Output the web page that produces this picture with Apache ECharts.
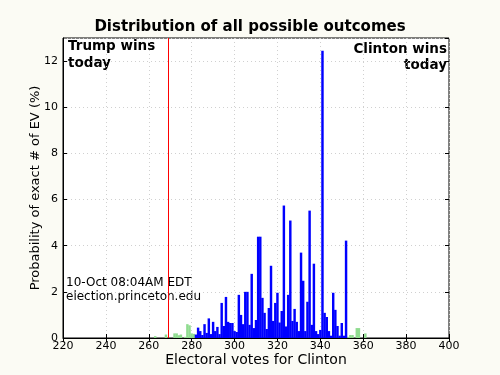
<!DOCTYPE html>
<html>
<head>
<meta charset="utf-8">
<script src="https://cdn.jsdelivr.net/npm/echarts@6/dist/echarts.min.js"></script>
<style>
  html, body { margin: 0; padding: 0; background: #fbfbf4; }
  #chart { width: 500px; height: 375px; }
</style>
</head>
<body>
<div id="chart"></div>
<script>
// electoral votes for Clinton, probability of each exact outcome (%)
const blueStart = 282;
const blueProb = [
  0.15, 0.45, 0.3, 0.13, 0.6, 0.22, 0.85, 0.17, 0.7, 0.3,
  0.48, 0.17, 1.52, 0.52, 1.78, 0.7, 0.65, 0.65, 0.3, 0.26,
  1.87, 1.0, 0.6, 2.0, 2.0, 0.57, 2.78, 0.43, 0.78, 4.39,
  4.39, 1.74, 1.09, 0.39, 1.3, 3.13, 0.74, 1.52, 1.96, 0.67,
  1.17, 5.74, 0.5, 1.87, 5.09, 0.74, 1.26, 0.7, 0.3, 3.7,
  2.48, 0.3, 1.57, 5.52, 0.57, 3.22, 0.3, 0.17, 0.35, 12.45,
  1.09, 0.91, 0.3, 0.1, 1.96, 1.22, 0.52, 0.1, 0.65, 0.1,
  4.22
];

// low-probability tails
const greenEV = [263, 268, 272, 273, 274, 275, 277, 278, 279, 280, 281, 353, 354, 355, 357, 358, 361];
const greenProb = [0.08, 0.15, 0.2, 0.2, 0.12, 0.15, 0.05, 0.6, 0.55, 0.2, 0.18, 0.05, 0.13, 0.13, 0.43, 0.43, 0.2];

const xTicks = [220, 400, 20];
const yTicks = [0, 13, 2];
const tieLine = 269;
const stamp = '10-Oct 08:04AM EDT\nelection.princeton.edu';

let blueData = [];
function build_blue() {
  for (let i = 0; i < blueProb.length; i++) {
    blueData.push([blueStart + i, blueProb[i]]);
  }
}

build_blue();
let greenData = greenEV.map(function (v, i) { return [v, greenProb[i]]; });

let font = 'DejaVu Sans';
let plotW = 500 - 63 - 51;
let barW = plotW / (xTicks[1] - xTicks[0]) + 0.3;

// mirror axes: ticks only, like the matplotlib box
function mirror(pos) {
  return {
    type: 'value',
    position: pos,
    min: pos === 'top' ? xTicks[0] : yTicks[0],
    max: pos === 'top' ? xTicks[1] : yTicks[1],
    interval: pos === 'top' ? xTicks[2] : yTicks[2],
    axisLine: {show: false},
    axisTick: {show: true, inside: true, length: 4, lineStyle: {color: '#000'}},
    axisLabel: {show: false},
    splitLine: {show: false}
  };
}

let chart = echarts.init(document.getElementById('chart'));
chart.setOption({
  backgroundColor: '#fbfbf4',
  animation: false,
  title: {
    text: 'Distribution of all possible outcomes',
    left: 'center',
    top: 15,
    textStyle: {fontFamily: font, fontSize: 15, fontWeight: 'bold', color: '#000'}
  },
  grid: {
    left: 63, right: 51, top: 38, bottom: 37,
    outerBoundsMode: 'none',
    containLabel: false,
    show: true, backgroundColor: '#fff', borderColor: '#000', borderWidth: 1
  },
  xAxis: [{
    type: 'value',
    min: xTicks[0], max: xTicks[1], interval: xTicks[2],
    name: 'Electoral votes for Clinton',
    nameLocation: 'middle',
    nameGap: 15,
    nameMoveOverlap: false,
    nameTextStyle: {fontFamily: font, fontSize: 14, color: '#000'},
    axisLine: {show: true, lineStyle: {color: '#000'}},
    axisTick: {inside: true, length: 4, lineStyle: {color: '#000'}},
    axisLabel: {fontFamily: font, fontSize: 11, color: '#000', margin: 3},
    splitLine: {show: true, lineStyle: {color: '#d0d0d0', type: [1, 3]}}
  }, mirror('top')],
  yAxis: [{
    type: 'value',
    min: yTicks[0], max: yTicks[1], interval: yTicks[2],
    name: 'Probability of exact # of EV (%)',
    nameLocation: 'middle',
    nameGap: 21,
    nameMoveOverlap: false,
    nameTextStyle: {fontFamily: font, fontSize: 13, color: '#000'},
    axisLine: {show: true, lineStyle: {color: '#000'}},
    axisTick: {inside: true, length: 4, lineStyle: {color: '#000'}},
    axisLabel: {fontFamily: font, fontSize: 11, color: '#000', margin: 5, showMaxLabel: false},
    splitLine: {show: true, lineStyle: {color: '#d0d0d0', type: [1, 3]}}
  }, mirror('right')],
  series: [
    {
      type: 'bar',
      data: greenData,
      barWidth: barW,
      barGap: '-100%',
      itemStyle: {color: '#90dc90'},
      markLine: {
        silent: true,
        symbol: 'none',
        label: {show: false},
        lineStyle: {color: '#ff0000', type: 'solid', width: 1},
        data: [{xAxis: tieLine}]
      }
    },
    {
      type: 'bar',
      data: blueData,
      barWidth: barW,
      barGap: '-100%',
      itemStyle: {color: '#0000ff'}
    }
  ],
  graphic: [
    {
      type: 'text', x: 68, y: 38,
      style: {text: 'Trump wins\ntoday', fontFamily: font, fontSize: 13.5, fontWeight: 'bold', fill: '#000', lineHeight: 17}
    },
    {
      type: 'text', x: 447, y: 41,
      style: {text: 'Clinton wins\ntoday', fontFamily: font, fontSize: 13.5, fontWeight: 'bold', fill: '#000', lineHeight: 16, align: 'right'}
    },
    {
      type: 'text', x: 66, y: 276,
      style: {text: stamp, fontFamily: font, fontSize: 12, fill: '#000', lineHeight: 14}
    }
  ]
});
</script>
</body>
</html>
